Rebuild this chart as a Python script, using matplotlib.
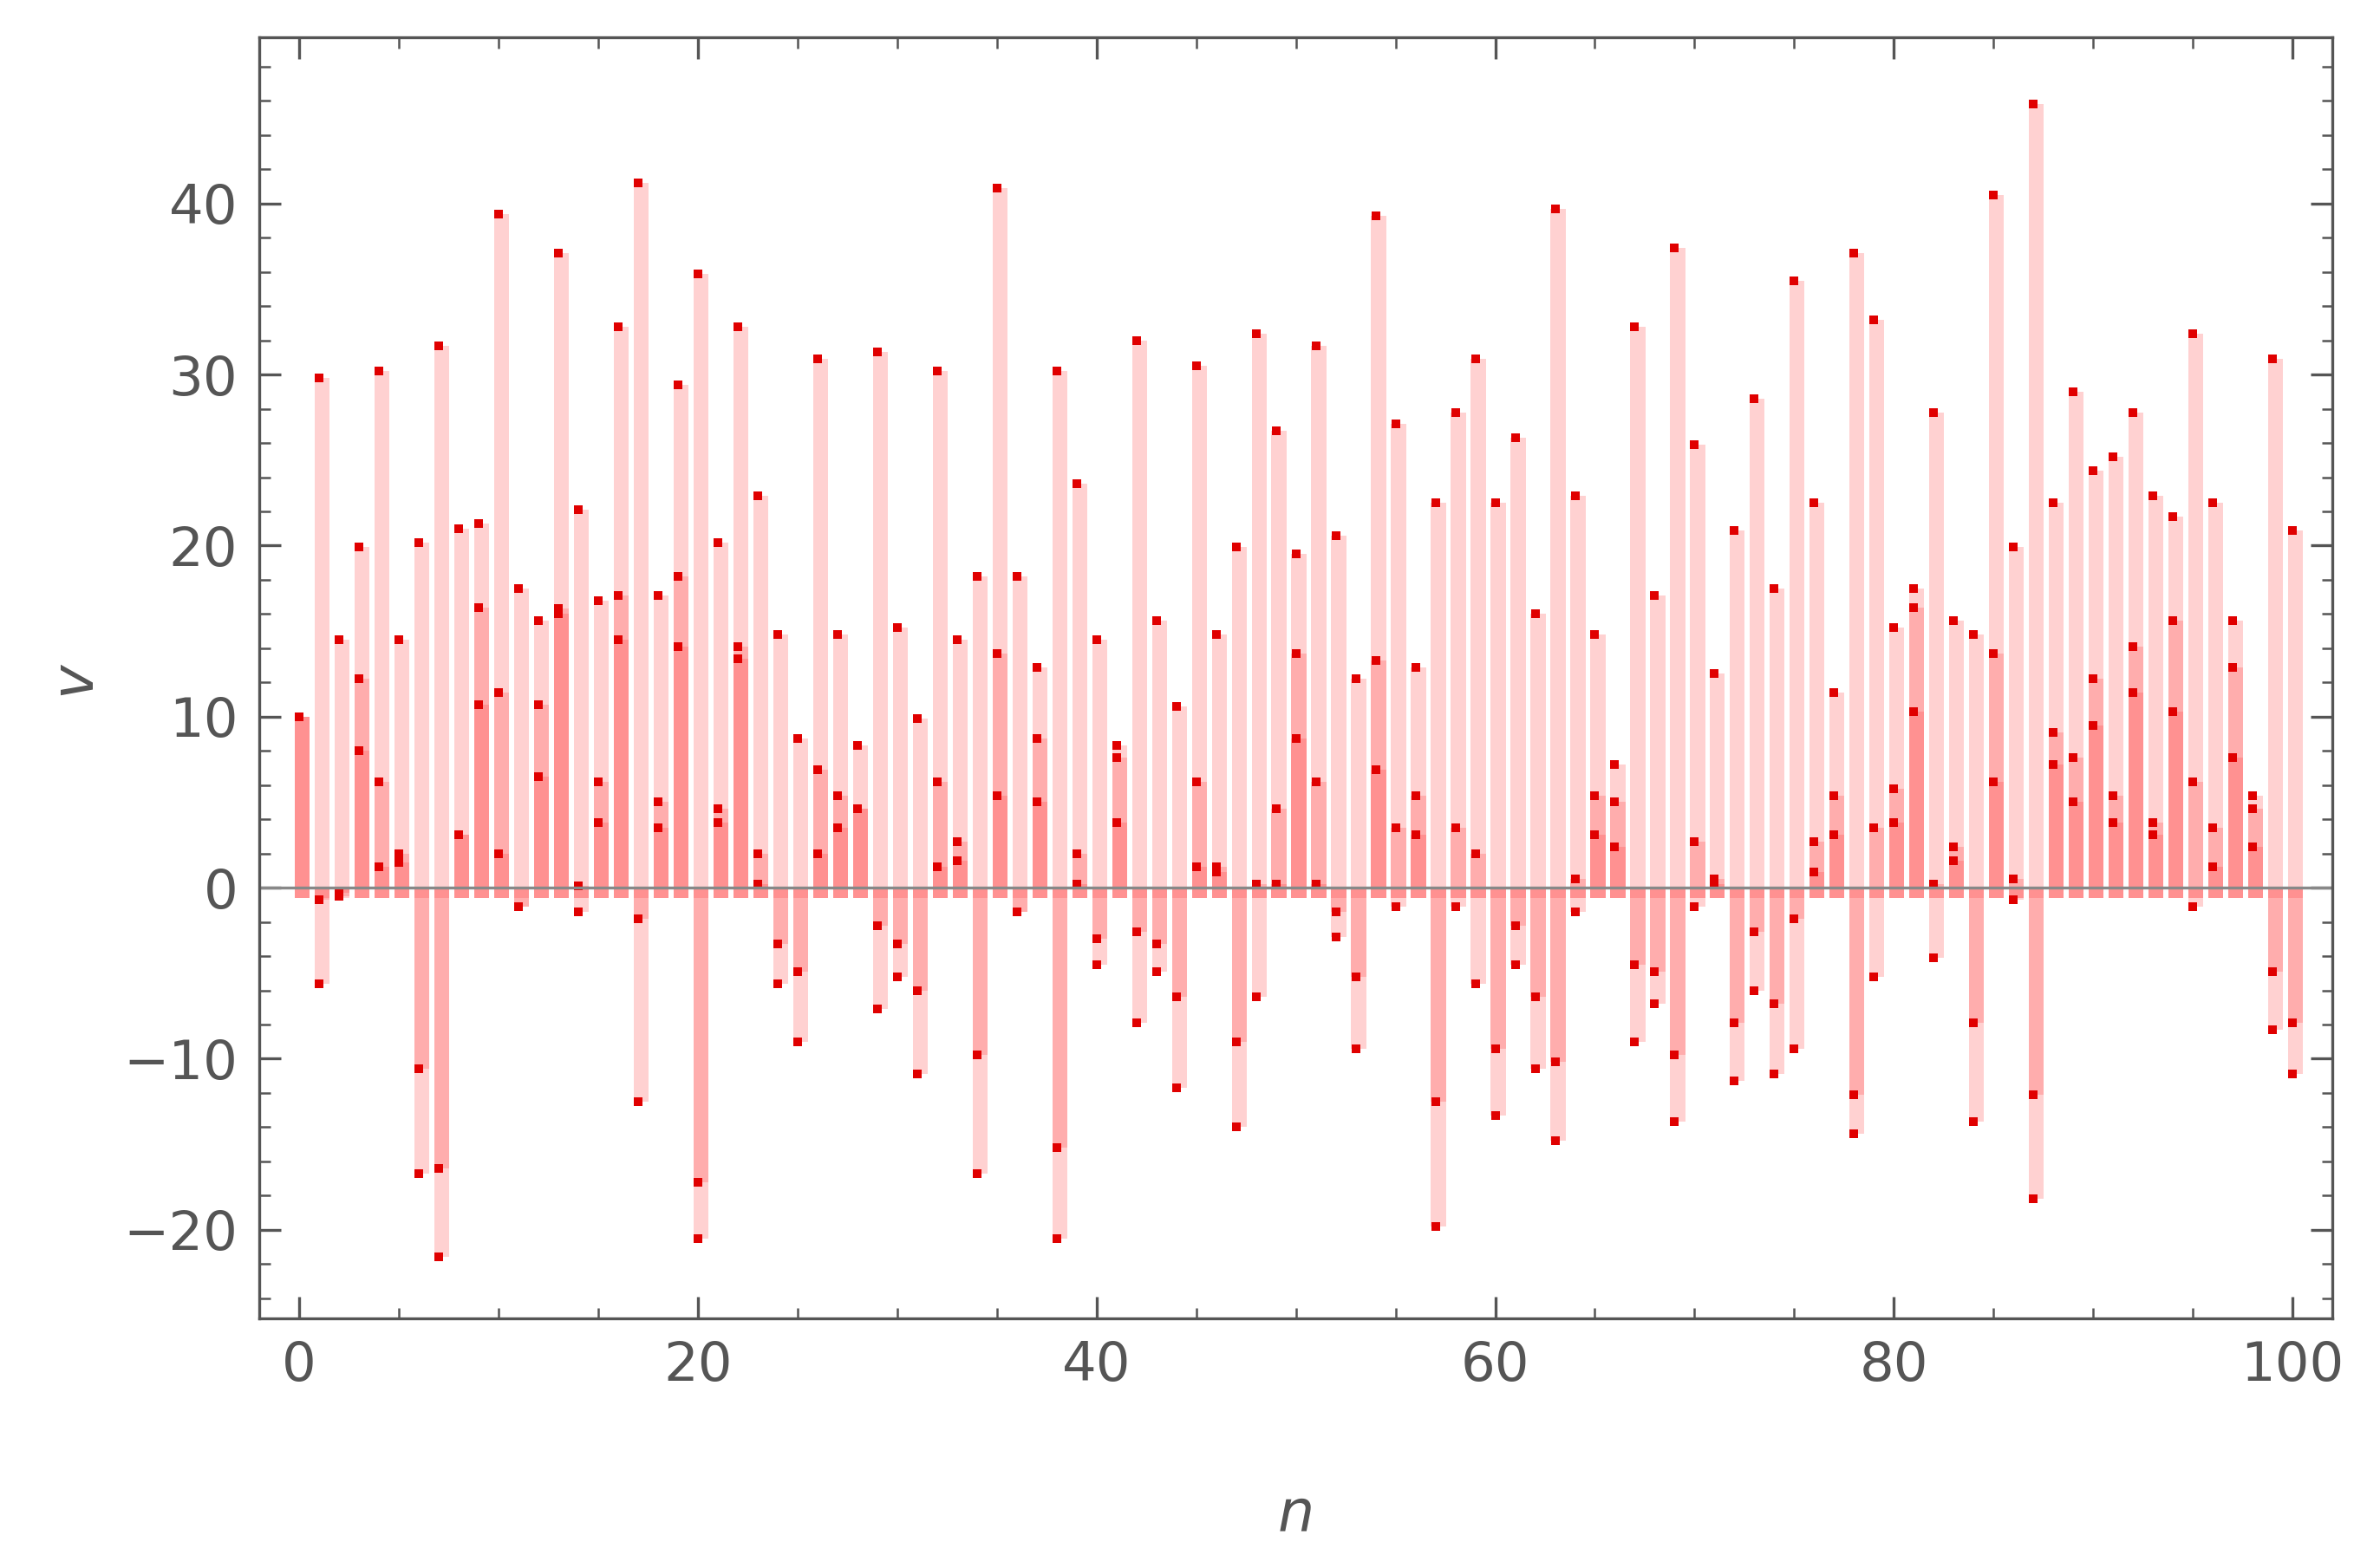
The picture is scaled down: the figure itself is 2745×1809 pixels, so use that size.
import matplotlib
matplotlib.use("Agg")
import matplotlib.pyplot as plt
from matplotlib.ticker import MultipleLocator
import numpy as np

n = list(range(101))
s1 = [10,29.8,14.5,19.9,30.2,14.5,20.2,31.7,21.0,21.3,39.4,17.5,15.6,37.1,22.1,16.8,32.8,41.2,17.1,29.4,
      35.9,20.2,32.8,22.9,14.8,8.7,30.9,14.8,8.3,31.3,15.2,9.9,30.2,14.5,18.2,40.9,18.2,12.9,30.2,23.6,
      14.5,8.3,32.0,15.6,10.6,30.5,14.8,19.9,32.4,26.7,19.5,31.7,20.6,12.2,39.3,27.1,12.9,22.5,27.8,30.9,
      22.5,26.3,16.0,39.7,22.9,14.8,7.2,32.8,17.1,37.4,25.9,12.5,20.9,28.6,17.5,35.5,22.5,11.4,37.1,33.2,
      15.2,17.5,27.8,15.6,14.8,40.5,19.9,45.8,22.5,29.0,24.4,25.2,27.8,22.9,21.7,32.4,22.5,15.6,5.4,30.9,20.9]
s2 = [10,-0.7,-0.5,12.2,6.2,2.0,-10.6,-16.4,3.1,16.4,11.4,-1.1,10.7,16.3,0.1,6.2,17.1,-1.8,5.0,18.2,
      -17.2,4.6,14.1,2.0,-3.3,-4.9,6.9,5.4,4.6,-2.2,-3.3,-6.0,6.2,2.7,-9.8,13.7,-1.4,8.7,-15.2,2.0,
      -3.0,7.6,-2.6,-3.3,-6.4,6.2,1.2,-9.0,0.2,4.6,13.7,6.2,-1.4,-5.2,13.3,3.5,5.4,-12.5,3.5,2.0,
      -9.4,-2.2,-6.4,-10.2,0.5,5.4,5.0,-4.5,-4.9,-9.8,2.7,0.5,-7.9,-2.6,-6.8,-1.8,2.7,5.4,-12.1,3.5,
      5.8,16.4,0.2,2.4,-7.9,13.7,0.5,-12.1,9.1,7.6,12.2,5.4,14.1,3.8,15.6,6.2,3.5,12.9,4.6,-4.9,-7.9]
s3 = [10,-5.6,-0.3,8.0,1.2,1.5,-16.7,-21.6,3.1,10.7,2.0,-1.1,6.5,16.0,-1.4,3.8,14.5,-12.5,3.5,14.1,
      -20.5,3.8,13.4,0.2,-5.6,-9.0,2.0,3.5,4.6,-7.1,-5.2,-10.9,1.2,1.6,-16.7,5.4,-1.4,5.0,-20.5,0.2,
      -4.5,3.8,-7.9,-4.9,-11.7,1.2,0.9,-14.0,-6.4,0.2,8.7,0.2,-2.9,-9.4,6.9,-1.1,3.1,-19.8,-1.1,-5.6,
      -13.3,-4.5,-10.6,-14.8,-1.4,3.1,2.4,-9.0,-6.8,-13.7,-1.1,0.2,-11.3,-6.0,-10.9,-9.4,0.9,3.1,-14.4,-5.2,
      3.8,10.3,-4.1,1.6,-13.7,6.2,-0.7,-18.2,7.2,5.0,9.5,3.8,11.4,3.1,10.3,-1.1,1.2,7.6,2.4,-8.3,-10.9]

gray = "#555555"
fig = plt.figure(figsize=(9.15, 6.03), dpi=300)
ax = fig.add_axes([0.109, 0.159, 0.871, 0.817])
x = np.array(n)
for s in (s1, s2, s3):
    s = np.array(s)
    bottom = np.where(s >= 0, -0.6, 0.0)
    ax.bar(x + 0.15, s - bottom, bottom=bottom, width=0.75, color="#ff3030", alpha=0.22, linewidth=0)
for s in (s1, s2, s3):
    ax.plot(x, s, "s", color="#e00000", markersize=2.6, markeredgewidth=0)
ax.axhline(0, color="#888888", lw=0.8)
ax.set_xlim(-2, 102)
ax.set_ylim(-25.2, 49.7)
ax.xaxis.set_major_locator(MultipleLocator(20))
ax.xaxis.set_minor_locator(MultipleLocator(5))
ax.yaxis.set_major_locator(MultipleLocator(10))
ax.yaxis.set_minor_locator(MultipleLocator(2))
ax.tick_params(which="both", direction="in", top=True, right=True, colors=gray, labelsize=15)
ax.tick_params(which="major", length=6, pad=6)
ax.tick_params(which="minor", length=3)
ax.set_yticks(range(-20, 50, 10))
ax.set_yticklabels(["\u221220", "\u221210", "0", "10", "20", "30", "40"])
for sp in ax.spines.values():
    sp.set_color(gray)
ax.set_xlabel("n", style="italic", fontsize=16, color=gray, labelpad=26)
ax.set_ylabel("v", style="italic", fontsize=16, color=gray, labelpad=6)
fig.savefig("out.png")
